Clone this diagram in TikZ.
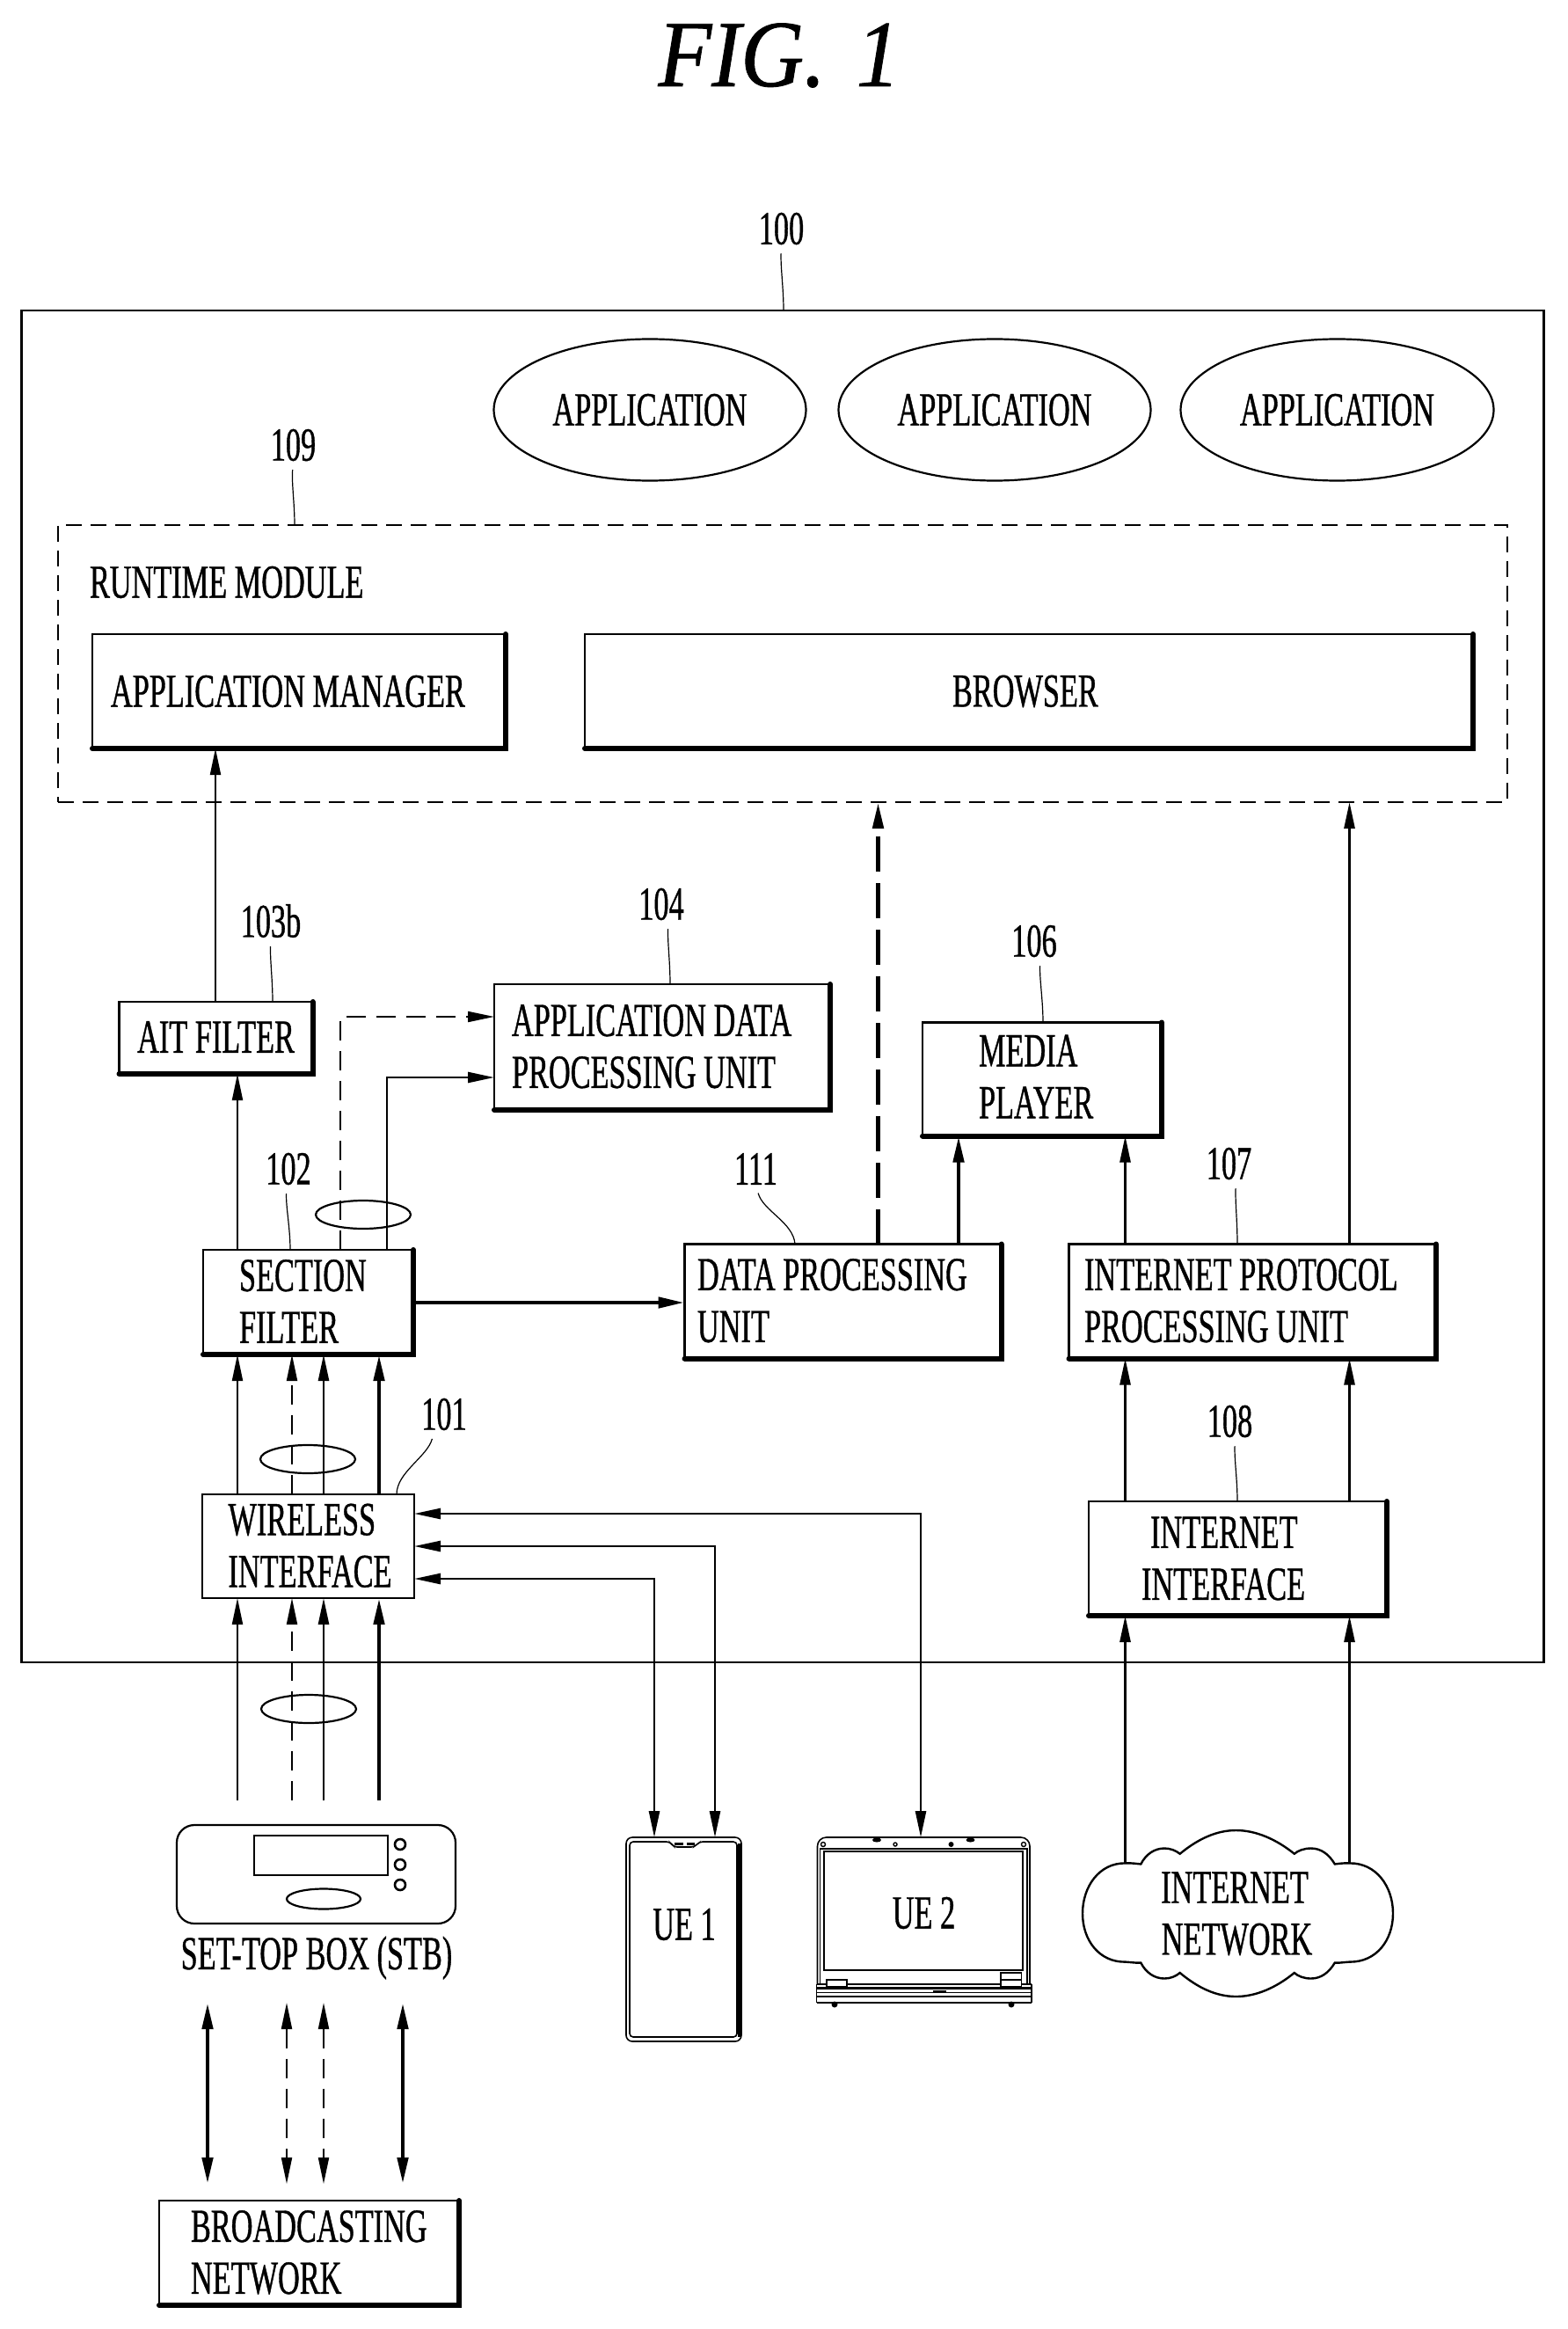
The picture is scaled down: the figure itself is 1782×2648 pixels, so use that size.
\documentclass[tikz,border=0pt]{standalone}
\usepackage{fontspec}
\setmainfont[FakeStretch=0.635,FakeBold=0.7]{Liberation Serif}
\newfontfamily\figfont[FakeStretch=0.92,FakeBold=0.8]{Liberation Serif}
\usetikzlibrary{arrows.meta,shapes.geometric}
\tikzset{
  every node/.style={outer sep=0pt,inner sep=0pt,font=\fontsize{27}{29.5}\selectfont},
  sz/.style 2 args={minimum width=#1*0.5pt,minimum height=#2*0.5pt},
  tbox/.style n args={3}{draw,line width=1.3pt,anchor=north west,minimum width=#1*0.5pt,minimum height=#2*0.5pt,
     inner xsep=#3*0.5pt,text width=(#1-2*#3)*0.5pt,align=flush left},
  cbox/.style 2 args={draw,line width=1.3pt,anchor=north west,minimum width=#1*0.5pt,minimum height=#2*0.5pt,align=center},
  shade/.style={line width=3pt,line cap=round,line join=miter},
  ell/.style={draw,ellipse,line width=1.1pt},
  tip/.tip={Triangle[length=15pt,width=6pt]},
  up1/.style={-tip,line width=1pt},
  up2/.style={-tip,line width=1.3pt},
  up3/.style={-tip,line width=2.3pt},
  dash1/.style={-tip,line width=1pt,dash pattern=on 11pt off 6pt},
  dash3/.style={-tip,line width=2.4pt,dash pattern=on 20pt off 6.5pt},
  bi1/.style={tip-tip,line width=1.3pt},
  bi3/.style={tip-tip,line width=2.3pt},
  bid/.style={tip-tip,line width=1pt,dash pattern=on 11pt off 6pt},
  leader/.style={line width=.6pt,shorten <=5pt},
  fine/.style={line width=.7pt},
}
\newcommand{\boxshade}[1]{\draw[shade] (#1.south west) -- (#1.south east) -- (#1.north east);}
\newcommand{\dn}[1]{\rule[-#1]{0pt}{#1}}
\begin{document}
\begin{tikzpicture}[x=0.5pt,y=-0.5pt]
\useasboundingbox (0,0) rectangle (1782,2648);
% column coordinates
\coordinate (c245) at (245,0);
\coordinate (c270) at (270,0);
\coordinate (c332) at (332,0);
\coordinate (c368) at (368,0);
\coordinate (c387) at (387,0);
\coordinate (c431) at (431,0);
\coordinate (c440) at (440,0);
\coordinate (c744) at (744,0);
\coordinate (c813) at (813,0);
\coordinate (c998) at (998.5,0);
\coordinate (c1047) at (1047,0);
\coordinate (c1090) at (1090,0);
\coordinate (c1279) at (1279.5,0);
\coordinate (c1534) at (1534.5,0);
\coordinate (r1156) at (0,1156);
\coordinate (r1225) at (0,1225);
\coordinate (r1481) at (0,1481);
\coordinate (r1720) at (0,1721);
\coordinate (r1758) at (0,1758);
\coordinate (r1795) at (0,1795);

\node[font=\fontsize{54}{54}\selectfont\figfont\itshape] (fig) at (886,63) {FIG.\hspace{5pt} 1};

% frames
\node[cbox={1731}{1537},line width=1.3pt] (dev) at (24.5,353) {};
\node[cbox={1648}{315},line width=.9pt,dash pattern=on 9pt off 5pt] (rt) at (66,597) {};
\node[anchor=west] (rttxt) at (102,662) {RUNTIME MODULE};

% applications
\node[ell,sz={355}{161}] (app1) at (739,466) {APPLICATION};
\node[ell,sz={355}{161}] (app2) at (1131,466) {APPLICATION};
\node[ell,sz={356}{161}] (app3) at (1520.5,466) {APPLICATION};

% boxes
\node[tbox={470}{130}{21}] (mgr) at (105,721) {APPLICATION MANAGER};
\node[tbox={1010}{130}{418}] (brw) at (665,721) {BROWSER};
\node[cbox={220}{82}] (ait) at (135.5,1139) {AIT FILTER\dn{1pt}};
\node[tbox={382}{143}{20}] (apd) at (562,1119) {APPLICATION DATA\\PROCESSING UNIT\dn{1pt}};
\node[tbox={272}{129}{64}] (med) at (1049,1162.5) {MEDIA\\PLAYER\dn{3pt}};
\node[tbox={239}{119}{41}] (sec) at (231,1421) {SECTION\\FILTER\dn{1pt}};
\node[tbox={360}{130}{14.5}] (dpu) at (778.5,1414.5) {DATA PROCESSING\\UNIT\dn{1pt}};
\node[tbox={417.5}{130}{17.5}] (ipu) at (1215.5,1414.5) {INTERNET PROTOCOL\\PROCESSING UNIT\dn{1pt}};
\node[tbox={241}{118}{29.5},line width=1.1pt] (wi) at (230,1699) {WIRELESS\\INTERFACE\dn{1pt}};
\node[tbox={339}{130}{60}] (ini) at (1238,1707) {\hspace*{5pt}INTERNET\\INTERFACE};
\node[tbox={341}{119}{36}] (bcn) at (181,2502) {BROADCASTING\\NETWORK\dn{1pt}};
\boxshade{mgr}\boxshade{brw}\boxshade{ait}\boxshade{apd}\boxshade{med}\boxshade{sec}\boxshade{dpu}\boxshade{ipu}\boxshade{ini}\boxshade{bcn}

% reference numerals
\node (n100) at (888.5,260) {100};
\node (n109) at (333.5,506) {109};
\node (n103) at (308,1047) {103b};
\node (n104) at (752,1028) {104};
\node (n106) at (1176,1070) {106};
\node (n102) at (328,1329) {102};
\node (n111) at (859.5,1329) {111};
\node (n107) at (1397.5,1323) {107};
\node (n108) at (1398.5,1616) {108};
\node (n101) at (505,1608) {101};
\coordinate (q100) at (891,0);
\coordinate (q109) at (335,0);
\coordinate (q103) at (310,0);
\coordinate (q104) at (762,0);
\coordinate (q106) at (1186,0);
\coordinate (q102) at (330,0);
\coordinate (q111) at (904,0);
\coordinate (q107) at (1407,0);
\coordinate (q108) at (1407,0);
\coordinate (q101) at (451,0);
\draw[leader] (n100.south) .. controls +(-1,25) and +(0,-25) .. (dev.north -| q100);
\draw[leader] (n109.south) .. controls +(-2,25) and +(0,-25) .. (rt.north -| q109);
\draw[leader] (n103.south) .. controls +(-1,25) and +(0,-25) .. (ait.north -| q103);
\draw[leader] ([xshift=4pt]n104.south) .. controls +(-1,25) and +(0,-25) .. (apd.north -| q104);
\draw[leader] ([xshift=3.5pt]n106.south) .. controls +(-1,25) and +(0,-25) .. (med.north -| q106);
\draw[leader] ([xshift=-1pt]n102.south) .. controls +(-1,25) and +(0,-25) .. (sec.north -| q102);
\draw[leader] (n111.south) .. controls +(8,30) and +(-2,-25) .. (dpu.north -| q111);
\draw[leader] ([xshift=4pt]n107.south) .. controls +(-1,25) and +(0,-25) .. (ipu.north -| q107);
\draw[leader] ([xshift=3pt]n108.south) .. controls +(-1,25) and +(0,-25) .. (ini.north -| q108);
\draw[leader] ([xshift=-5.5pt]n101.south) .. controls +(-8,30) and +(0,-25) .. (wi.north -| q101);

% devices
\node[draw,line width=1.1pt,rounded corners=10pt,anchor=north west,sz={317}{112}] (stb) at (201,2075) {};
\draw[line width=1.1pt] (289,2087) rectangle (441,2132);
\draw[line width=1.3pt] (455,2097) circle (6);
\draw[line width=1.3pt] (455,2120) circle (6);
\draw[line width=1.3pt] (455,2143) circle (6);
\node[ell,sz={84}{23}] (stboval) at (368,2159) {};
\node (stbtxt) at (360,2226) {SET-TOP BOX (STB)};

\node[draw,line width=.8pt,rounded corners=3.5pt,anchor=north west,sz={131}{232}] (ue) at (712,2089) {};
\node (uetxt) at (778,2188) {UE 1};
\draw[line width=.8pt,rounded corners=2pt] (716,2094) -- (762,2094) -- (766,2100) -- (790,2100) -- (795,2094) -- (838,2094) -- (838,2316) -- (716,2316) -- cycle;
\draw[line width=1.6pt] (841,2096) -- (841,2316);
\fill (767,2095) rectangle (777,2098);
\fill (781,2095) rectangle (790,2098);

% laptop
\node[anchor=north west,sz={240}{172}] (lap) at (930.5,2089) {UE 2};
\draw[line width=.8pt,rounded corners=5pt] (929.5,2256) -- (929.5,2089) -- (1171,2089) -- (1171,2256);
\draw[line width=.8pt] (932.5,2256) -- (932.5,2102) -- (1168,2102) -- (1168,2256);
\draw[line width=1.3pt] (937,2105) rectangle (1163,2240);
\draw[line width=.7pt] (928.5,2256) -- (1173,2256);
\draw[line width=1.6pt] (928.5,2260.5) -- (1173,2260.5);
\draw[line width=.7pt] (928.5,2265.5) -- (1173,2265.5);
\draw[line width=.7pt] (928.5,2270) -- (1173,2270);
\draw[line width=1.3pt] (928.5,2277) -- (1173,2277);
\draw[line width=.6pt] (928.5,2256) -- (928.5,2277) (1173,2256) -- (1173,2277);
\draw[line width=.8pt,fill=white] (940,2251) rectangle (963,2259);
\draw[line width=.8pt,fill=white] (1138,2251) rectangle (1161.5,2259);
\draw[line width=.8pt] (1138,2243) rectangle (1161.5,2251);
\fill (949,2279) circle (3.5) (1150,2279) circle (3.5);
\fill (997,2092) ellipse (5 and 2.5) (1103.5,2092) ellipse (5 and 2.5) (1081.5,2097) circle (3);
\draw[fine] (1018,2097) circle (2) (936,2097) circle (2.5) (1164,2097) circle (2.5);
\draw[line width=.9pt] (1061,2264) -- (1076,2264);

% cloud
\node[sz={353}{189}] (cloud) at (1407.5,2175.5) {};
\coordinate (cl) at (1279.5,2118);
\coordinate (cr) at (1534.5,2118);
\node (cldA) at (1404,2146) {INTERNET};
\node (cldB) at (1406.5,2205) {NETWORK};
\draw[line width=1.2pt] (1231,2175.5)
  .. controls (1231,2145) and (1250,2118) .. (1279.5,2118.4)
  .. controls (1287,2118) and (1292,2119) .. (1297.3,2119.4)
  .. controls (1303,2108) and (1313,2101.5) .. (1324,2101.5)
  .. controls (1331,2101.5) and (1337,2104) .. (1341.7,2107.7)
  .. controls (1362,2091) and (1383,2081) .. (1405.5,2081)
  .. controls (1428,2081) and (1451,2091) .. (1471.8,2107.7)
  .. controls (1476,2104) and (1483,2101.5) .. (1490.7,2101.5)
  .. controls (1502,2101.5) and (1511,2108) .. (1517.8,2119.4)
  .. controls (1522,2119) and (1528,2118) .. (1534.6,2118.4)
  .. controls (1565,2118) and (1584,2145) .. (1584,2175.5)
  .. controls (1584,2206) and (1565,2231) .. (1534.6,2230.6)
  .. controls (1528,2231) and (1522,2232) .. (1517.8,2231.6)
  .. controls (1511,2243) and (1502,2249.5) .. (1490.7,2249.5)
  .. controls (1483,2249.5) and (1476,2247) .. (1471.8,2243)
  .. controls (1451,2260) and (1428,2270) .. (1405.5,2270)
  .. controls (1383,2270) and (1362,2260) .. (1341.7,2243)
  .. controls (1337,2247) and (1331,2249.5) .. (1324,2249.5)
  .. controls (1313,2249.5) and (1303,2243) .. (1297.3,2231.6)
  .. controls (1292,2232) and (1287,2231) .. (1279.5,2230.6)
  .. controls (1250,2231) and (1231,2206) .. (1231,2175.5) -- cycle;

% connectors: upper part
\draw[up1] (ait.north -| c245) -- (mgr.south -| c245);
\draw[up1] (sec.north -| c270) -- (ait.south -| c270);
\draw[dash1] (sec.north -| c387) |- (apd.west |- r1156);
\draw[up2] (sec.north -| c440) |- (apd.west |- r1225);
\draw[up3] (sec.east |- r1481) -- (dpu.west |- r1481);
\draw[dash3] (dpu.north -| c998) -- (rt.south -| c998);
\draw[up3] (dpu.north -| c1090) -- (med.south -| c1090);
\draw[up2] (ipu.north -| c1279) -- (med.south -| c1279);
\draw[up2] (ipu.north -| c1534) -- (rt.south -| c1534);
\draw[up2] (ini.north -| c1279) -- (ipu.south -| c1279);
\draw[up2] (ini.north -| c1534) -- (ipu.south -| c1534);

% wireless to section filter
\draw[up1] (wi.north -| c270) -- (sec.south -| c270);
\draw[dash1] (wi.north -| c332) -- (sec.south -| c332);
\draw[up2] (wi.north -| c368) -- (sec.south -| c368);
\draw[up3] (wi.north -| c431) -- (sec.south -| c431);

% set-top box to wireless
\coordinate (s1) at (270,2047);
\coordinate (s2) at (332,2047);
\coordinate (s3) at (368,2047);
\coordinate (s4) at (431,2047);
\draw[up1] (s1) -- (wi.south -| s1);
\draw[dash1] (s2) -- (wi.south -| s2);
\draw[up2] (s3) -- (wi.south -| s3);
\draw[up3] (s4) -- (wi.south -| s4);

% wireless to devices
\draw[bi1] (wi.east |- r1795) -| (ue.north -| c744);
\draw[bi1] (wi.east |- r1758) -| (ue.north -| c813);
\draw[bi1] (wi.east |- r1720) -| (lap.north -| c1047);

% internet
\draw[up2] (cl) -- (ini.south -| cl);
\draw[up2] (cr) -- (ini.south -| cr);

% set-top box to broadcasting network
\coordinate (d1a) at (236,2277); \coordinate (d1b) at (236,2483);
\coordinate (d2a) at (326,2277); \coordinate (d2b) at (326,2483);
\coordinate (d3a) at (368,2277); \coordinate (d3b) at (368,2483);
\coordinate (d4a) at (458,2277); \coordinate (d4b) at (458,2483);
\draw[bi3] (d1a) -- (d1b);
\draw[bid] (d2a) -- (d2b);
\draw[bid] (d3a) -- (d3b);
\draw[bi3] (d4a) -- (d4b);

% bundle ellipses
\node[ell,sz={108}{32}] (b1) at (413,1381) {};
\node[ell,sz={108}{32}] (b2) at (350,1659) {};
\node[ell,sz={108}{32}] (b3) at (351,1943) {};
\end{tikzpicture}
\end{document}
